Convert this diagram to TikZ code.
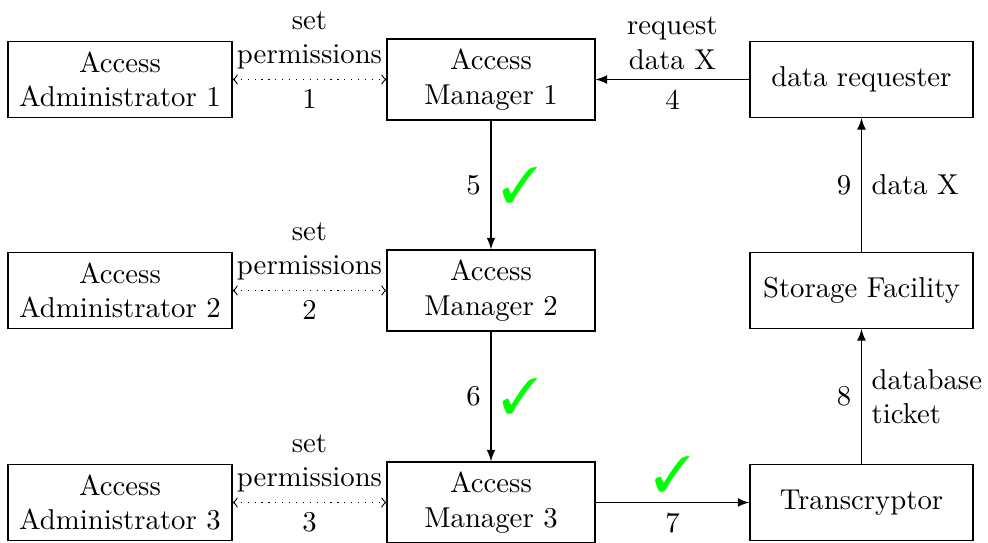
\documentclass[tikz,border=0pt]{standalone}
\usepackage{pifont}
\usetikzlibrary{arrows}
\tikzset{
  box/.style={draw, align=center, inner sep=3.33pt},
  adminbox/.style={box, minimum width=77.9pt, minimum height=26.4pt},
  mgrbox/.style={box, minimum width=72.3pt, minimum height=28.2pt},
  sidebox/.style={box, minimum width=77.6pt, minimum height=26.4pt},
  perm/.style={dotted, <->},
  flow/.style={-latex},
  tick/.style={text=green, font=\LARGE},
}
\newcommand\okmark{\ding{51}}

\begin{document}
\begin{tikzpicture}[x=0.34783pt, y=-0.34783pt]
\useasboundingbox (0,0) rectangle (988,543);

% administrators
\node[adminbox] (ad1) at (120,79.5)  {Access\\Administrator 1};
\node[adminbox] (ad2) at (120,290.5) {Access\\Administrator 2};
\node[adminbox] (ad3) at (120,502.5) {Access\\Administrator 3};

% access managers
\node[mgrbox] (mg1) at (491,79.5)  {Access\\Manager 1};
\node[mgrbox] (mg2) at (491,290.5) {Access\\Manager 2};
\node[mgrbox] (mg3) at (491,502.5) {Access\\Manager 3};

% right column
\node[sidebox] (dr) at (861.5,79.5)  {data requester};
\node[sidebox] (sf) at (861.5,290.5) {Storage Facility};
\node[sidebox] (tc) at (861.5,502.5) {Transcryptor};

% permissions
\draw[perm] (ad1) -- node[above, align=center] {set\\permissions} node[below] {1} (mg1);
\draw[perm] (ad2) -- node[above, align=center] {set\\permissions} node[below] {2} (mg2);
\draw[perm] (ad3) -- node[above, align=center] {set\\permissions} node[below] {3} (mg3);

% request flow
\draw[flow] (dr) -- node[above, align=center] {request\\data X} node[below] {4} (mg1);
\draw[flow] (mg1) -- node[left] {5} node[right, tick] {\okmark} (mg2);
\draw[flow] (mg2) -- node[left] {6} node[right, tick] {\okmark} (mg3);
\draw[flow] (mg3) -- node[above, tick] {\okmark} node[below] {7} (tc);
\draw[flow] (tc) -- node[left] {8} node[right, align=left] {database\\ticket} (sf);
\draw[flow] (sf) -- node[left] {9} node[right] {data X} (dr);
\end{tikzpicture}
\end{document}
